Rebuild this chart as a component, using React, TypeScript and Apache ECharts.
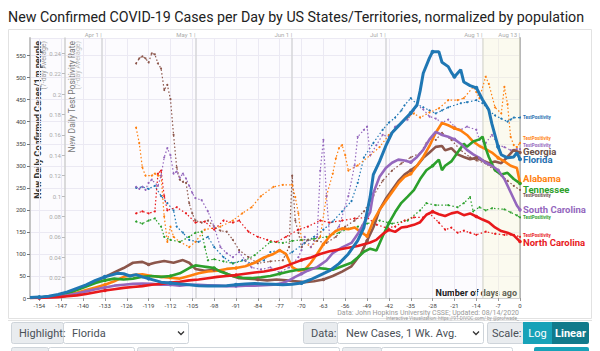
import React, { useEffect, useRef } from 'react';
import * as echarts from 'echarts';

const TITLE = 'New Confirmed COVID-19 Cases per Day by US States/Territories, normalized by population';
const DAY_MIN = -157;
const DAY_MAX = 0;
const DAY_TICKS = [-154, -147, -140, -133, -126, -119, -112, -105, -98, -91, -84, -77, -70, -63, -56, -49, -42, -35, -28, -21, -14, -7, 0];
const MONTH_DAYS = [-134, -104, -73, -43, -12, 0];
const MONTH_LABELS = ['Apr 1', 'May 1', 'Jun 1', 'Jul 1', 'Aug 1', 'Aug 13'];
const CASE_MAX = 590;
const CASE_STEP = 50;
const POS_MAX = 0.255;
const POS_STEP = 0.02;

const STATES = ['Florida', 'Georgia', 'Alabama', 'Tennessee', 'South Carolina', 'North Carolina'];
const COLORS = ['#1f77b4', '#8c564b', '#ff7f0e', '#2ca02c', '#9467bd', '#e8191c'];
const LABEL_COLORS = ['#1f6fb0', '#6b4f49', '#ff7f0e', '#2ca02c', '#9467bd', '#e8191c'];

const FL_CASES = [[-157,1],[-154,2],[-151,4],[-148,8],[-145,14],[-142,22],[-139,30],[-136,40],[-133,48],[-131,52],[-129,56],[-127,55],[-125,50],[-123,53],[-121,48],[-119,44],[-117,40],[-115,36],[-112,34],[-109,32],[-106,30],[-103,28],[-100,27],[-97,27],[-94,28],[-91,30],[-88,32],[-85,33],[-82,32],[-79,31],[-76,30],[-73,31],[-70,34],[-67,42],[-64,52],[-61,62],[-58,78],[-55,100],[-52,130],[-50,160],[-48,230],[-47,280],[-45,310],[-43,345],[-41,375],[-39,390],[-37,405],[-35,420],[-33,438],[-32,470],[-31,510],[-29,545],[-28,559],[-26,559],[-25,535],[-23,525],[-22,512],[-21,502],[-19,518],[-18,490],[-16,482],[-14,477],[-12,450],[-10,427],[-9,395],[-7,343],[-6,325],[-4,318],[-2,320],[-1,330],[0,315]];
const GA_CASES = [[-157,0],[-154,1],[-151,3],[-148,6],[-145,12],[-142,20],[-139,28],[-136,38],[-133,48],[-130,58],[-127,68],[-124,80],[-121,82],[-119,76],[-117,80],[-114,84],[-111,80],[-108,86],[-106,80],[-104,66],[-101,62],[-98,64],[-96,62],[-93,52],[-90,45],[-87,44],[-84,42],[-81,40],[-78,42],[-75,40],[-72,38],[-69,36],[-66,38],[-63,42],[-60,50],[-57,60],[-54,72],[-51,100],[-49,130],[-47,160],[-45,200],[-43,225],[-41,245],[-39,265],[-37,280],[-35,290],[-33,300],[-31,318],[-29,330],[-27,343],[-25,345],[-24,335],[-22,340],[-20,326],[-18,320],[-16,315],[-14,318],[-12,312],[-10,306],[-8,310],[-6,306],[-4,320],[-2,336],[0,330]];
const AL_CASES = [[-157,0],[-154,1],[-151,2],[-148,4],[-145,8],[-142,12],[-139,18],[-136,24],[-133,30],[-130,38],[-127,48],[-124,52],[-121,54],[-118,50],[-115,48],[-112,46],[-109,44],[-106,50],[-103,56],[-100,60],[-97,62],[-94,66],[-91,68],[-88,72],[-85,80],[-82,92],[-79,100],[-77,108],[-75,100],[-73,70],[-71,62],[-69,64],[-67,80],[-65,100],[-63,122],[-61,140],[-59,152],[-57,158],[-55,156],[-53,160],[-51,150],[-49,140],[-47,175],[-45,200],[-43,220],[-41,240],[-39,260],[-37,275],[-35,282],[-33,300],[-31,320],[-29,345],[-27,375],[-25,397],[-23,392],[-21,385],[-19,380],[-17,370],[-15,355],[-13,345],[-11,338],[-9,330],[-7,318],[-5,310],[-3,300],[-1,295],[0,261]];
const TN_CASES = [[-157,0],[-154,1],[-151,3],[-148,6],[-145,11],[-142,18],[-139,26],[-136,34],[-133,40],[-130,44],[-127,42],[-124,44],[-121,48],[-118,50],[-115,48],[-112,50],[-109,56],[-106,68],[-104,74],[-102,72],[-100,70],[-98,68],[-96,60],[-94,55],[-92,50],[-89,46],[-86,45],[-83,47],[-80,50],[-77,55],[-74,60],[-71,64],[-68,66],[-65,68],[-62,66],[-60,64],[-57,72],[-54,80],[-52,92],[-50,105],[-48,112],[-46,108],[-44,140],[-42,170],[-40,195],[-38,216],[-36,230],[-34,245],[-32,270],[-30,290],[-28,300],[-26,314],[-25,290],[-24,300],[-22,310],[-20,330],[-18,350],[-17,343],[-15,355],[-13,360],[-12,366],[-11,340],[-10,320],[-8,290],[-6,280],[-4,284],[-2,270],[0,260]];
const SC_CASES = [[-157,0],[-154,0],[-151,1],[-148,3],[-145,6],[-142,10],[-139,15],[-136,20],[-133,24],[-130,28],[-127,30],[-124,32],[-121,33],[-118,32],[-115,30],[-112,30],[-109,28],[-106,30],[-103,30],[-100,29],[-97,28],[-94,27],[-91,27],[-88,28],[-85,28],[-82,29],[-79,30],[-76,34],[-74,40],[-72,48],[-70,55],[-68,62],[-65,70],[-62,85],[-60,102],[-57,115],[-54,125],[-52,145],[-50,170],[-48,195],[-47,238],[-45,275],[-43,295],[-41,307],[-39,314],[-37,312],[-35,308],[-33,320],[-31,336],[-29,360],[-27,377],[-25,370],[-23,366],[-21,360],[-19,350],[-17,336],[-15,326],[-13,318],[-11,307],[-9,300],[-7,290],[-5,270],[-3,240],[-1,210],[0,200]];
const NC_CASES = [[-157,0],[-154,0],[-151,1],[-148,2],[-145,4],[-142,6],[-139,9],[-136,13],[-133,17],[-130,20],[-127,23],[-124,25],[-121,27],[-118,30],[-115,32],[-112,35],[-109,37],[-106,40],[-103,42],[-100,45],[-97,48],[-94,50],[-91,52],[-88,55],[-85,58],[-82,60],[-79,64],[-76,70],[-73,78],[-70,86],[-67,92],[-64,100],[-61,106],[-58,110],[-55,114],[-52,118],[-50,122],[-48,126],[-46,132],[-44,145],[-42,155],[-40,150],[-38,160],[-36,162],[-34,166],[-32,172],[-30,189],[-28,196],[-26,190],[-24,186],[-22,192],[-20,195],[-18,188],[-16,192],[-14,185],[-12,178],[-10,172],[-8,160],[-6,152],[-4,148],[-2,142],[0,128]];

const FL_POS = [[-123,0.108],[-121,0.109],[-119,0.107],[-117,0.11],[-115,0.1],[-113,0.093],[-111,0.086],[-110,0.07],[-108,0.064],[-106,0.057],[-103,0.055],[-100,0.06],[-98,0.05],[-95,0.04],[-92,0.034],[-89,0.037],[-86,0.034],[-82,0.037],[-80,0.045],[-77,0.047],[-75,0.042],[-73,0.045],[-69,0.054],[-66,0.06],[-63,0.067],[-60,0.075],[-57,0.085],[-54,0.095],[-52,0.113],[-50,0.138],[-47,0.152],[-44,0.165],[-42,0.172],[-40,0.177],[-38,0.184],[-37,0.189],[-35,0.196],[-33,0.19],[-31,0.187],[-29,0.184],[-27,0.181],[-25,0.184],[-23,0.187],[-19,0.191],[-17,0.192],[-14,0.194],[-12,0.191],[-10,0.184],[-8,0.179],[-6,0.176],[-4,0.173],[-3,0.175],[-2,0.177],[0,0.177]];
const GA_POS = [[-123,0.23],[-122,0.235],[-121,0.237],[-120,0.235],[-119,0.231],[-118,0.24],[-117,0.239],[-116,0.23],[-115,0.225],[-114,0.204],[-113,0.209],[-112,0.195],[-111,0.16],[-110,0.128],[-109,0.116],[-108,0.114],[-107,0.113],[-106,0.093],[-105,0.083],[-104,0.076],[-102,0.074],[-100,0.076],[-98,0.07],[-96,0.066],[-94,0.065],[-92,0.057],[-90,0.047],[-87,0.04],[-84,0.034],[-80,0.036],[-76,0.037],[-74,0.05],[-73,0.12],[-72,0.076],[-71,0.064],[-70,0.05],[-68,0.057],[-65,0.056],[-62,0.054],[-59,0.06],[-56,0.07],[-53,0.076],[-50,0.085],[-47,0.1],[-44,0.115],[-41,0.125],[-38,0.132],[-35,0.138],[-32,0.142],[-30,0.152],[-28,0.158],[-27,0.155],[-25,0.162],[-22,0.155],[-19,0.145],[-16,0.138],[-14,0.135],[-11,0.132],[-8,0.125],[-6,0.12],[-4,0.115],[-2,0.11],[0,0.106]];
const AL_POS = [[-123,0.167],[-122,0.152],[-121,0.128],[-120,0.12],[-118,0.12],[-117,0.122],[-116,0.12],[-115,0.12],[-114,0.08],[-113,0.055],[-112,0.07],[-111,0.06],[-109,0.055],[-106,0.05],[-104,0.055],[-101,0.067],[-96,0.07],[-92,0.076],[-89,0.083],[-86,0.089],[-83,0.1],[-79,0.109],[-76,0.111],[-73,0.111],[-72,0.099],[-71,0.083],[-70,0.057],[-67,0.05],[-64,0.06],[-62,0.1],[-60,0.122],[-59,0.137],[-58,0.147],[-57,0.15],[-56,0.14],[-55,0.125],[-52,0.13],[-48,0.14],[-45,0.148],[-42,0.16],[-38,0.172],[-36,0.177],[-34,0.181],[-32,0.177],[-29,0.182],[-26,0.186],[-23,0.194],[-20,0.194],[-18,0.196],[-15,0.207],[-14,0.202],[-13,0.196],[-11,0.217],[-10,0.21],[-8,0.187],[-6,0.181],[-5,0.207],[-4,0.19],[-3,0.158],[-2,0.15],[-1,0.148],[0,0.152]];
const TN_POS = [[-123,0.075],[-121,0.073],[-119,0.076],[-117,0.078],[-115,0.07],[-114,0.06],[-112,0.057],[-109,0.055],[-106,0.06],[-104,0.064],[-102,0.065],[-101,0.05],[-100,0.037],[-98,0.038],[-95,0.036],[-92,0.034],[-88,0.037],[-85,0.042],[-80,0.055],[-76,0.054],[-73,0.056],[-70,0.057],[-66,0.058],[-62,0.06],[-58,0.064],[-55,0.068],[-52,0.07],[-49,0.073],[-45,0.076],[-41,0.073],[-36,0.076],[-32,0.086],[-30,0.093],[-27,0.091],[-23,0.091],[-20,0.089],[-18,0.093],[-16,0.099],[-15,0.085],[-13,0.089],[-11,0.086],[-9,0.088],[-5,0.087],[-3,0.084],[-1,0.081],[0,0.079]];
const SC_POS = [[-123,0.109],[-122,0.107],[-121,0.109],[-120,0.106],[-119,0.113],[-118,0.116],[-116,0.11],[-115,0.12],[-114,0.138],[-113,0.147],[-112,0.14],[-111,0.122],[-110,0.124],[-109,0.118],[-108,0.122],[-107,0.117],[-106,0.11],[-105,0.103],[-104,0.098],[-102,0.096],[-100,0.085],[-98,0.07],[-96,0.05],[-94,0.044],[-92,0.04],[-90,0.045],[-88,0.037],[-86,0.03],[-83,0.028],[-80,0.03],[-77,0.025],[-74,0.03],[-71,0.04],[-70,0.047],[-69,0.06],[-67,0.05],[-65,0.06],[-64,0.125],[-63,0.155],[-62,0.1],[-61,0.06],[-58,0.07],[-55,0.1],[-53,0.13],[-52,0.158],[-50,0.165],[-49,0.168],[-48,0.14],[-46,0.15],[-44,0.16],[-42,0.158],[-40,0.168],[-38,0.172],[-36,0.175],[-34,0.184],[-33,0.189],[-31,0.185],[-29,0.178],[-27,0.176],[-25,0.172],[-23,0.175],[-21,0.168],[-19,0.165],[-17,0.168],[-14,0.165],[-13,0.155],[-11,0.152],[-9,0.16],[-7,0.15],[-5,0.148],[-3,0.145],[-1,0.146],[0,0.146]];
const NC_POS = [[-123,0.083],[-121,0.085],[-119,0.083],[-117,0.085],[-116,0.122],[-115,0.125],[-114,0.1],[-113,0.086],[-110,0.089],[-107,0.083],[-104,0.074],[-101,0.075],[-98,0.067],[-95,0.076],[-92,0.074],[-90,0.076],[-87,0.065],[-84,0.06],[-81,0.057],[-78,0.055],[-75,0.06],[-71,0.067],[-68,0.07],[-64,0.076],[-61,0.074],[-57,0.076],[-53,0.078],[-49,0.079],[-46,0.072],[-43,0.069],[-40,0.07],[-37,0.076],[-34,0.079],[-31,0.079],[-29,0.083],[-26,0.074],[-24,0.067],[-22,0.069],[-20,0.064],[-18,0.066],[-16,0.064],[-14,0.062],[-11,0.065],[-8,0.063],[-5,0.062],[-2,0.062],[0,0.06]];

const CASES = [FL_CASES, GA_CASES, AL_CASES, TN_CASES, SC_CASES, NC_CASES];
const POS = [FL_POS, GA_POS, AL_POS, TN_POS, SC_POS, NC_POS];
const NAME_OFFSETS = [[0, 0.5], [0, -1.5], [0, -4], [0, 6], [0, 0], [0, 1]];
const POS_OFFSETS = [[0, 0], [0, 6], [0, -5], [0, 0], [0, -4], [0, -1]];

const FONT = 'Roboto, "Open Sans", sans-serif';

function buildOption() {
  const categories: string[] = [];
  for (let d = DAY_MIN; d <= DAY_MAX; d++) categories.push(String(d));
  const isTick = (_i: number, v: string) => DAY_TICKS.indexOf(Number(v)) >= 0;
  const isMonth = (_i: number, v: string) => MONTH_DAYS.indexOf(Number(v)) >= 0;
  const toPairs = (arr: number[][]) => arr.map(([d, v]) => [String(d), v]);

  const series: any[] = [];
  STATES.forEach((name, i) => {
    series.push({
      name: name + ' TestPositivity',
      type: 'line',
      xAxisIndex: 0,
      yAxisIndex: 1,
      data: toPairs(POS[i]),
      symbol: 'circle',
      symbolSize: 2,
      showSymbol: true,
      z: 2,
      lineStyle: { color: COLORS[i], width: 1.2, type: [1.5, 2.2] },
      itemStyle: { color: COLORS[i] },
      endLabel: {
        show: true,
        formatter: 'TestPositivity',
        color: LABEL_COLORS[i],
        fontSize: 4.5,
        lineHeight: 5,
        fontWeight: 'bold',
        fontFamily: FONT,
        distance: 3,
        offset: POS_OFFSETS[i],
      },
      emphasis: { disabled: true },
    });
  });
  STATES.forEach((name, i) => {
    const s: any = {
      name,
      type: 'line',
      xAxisIndex: 0,
      yAxisIndex: 0,
      data: toPairs(CASES[i]),
      symbol: 'circle',
      symbolSize: i === 0 ? 4 : 3.5,
      showSymbol: true,
      z: i === 0 ? 5 : 3,
      lineStyle: { color: COLORS[i], width: i === 0 ? 3 : 2.6 },
      itemStyle: { color: COLORS[i] },
      endLabel: {
        show: true,
        formatter: name,
        color: LABEL_COLORS[i],
        fontSize: 9.5,
        lineHeight: 9.5,
        fontWeight: 'bold',
        fontFamily: FONT,
        distance: 3,
        offset: NAME_OFFSETS[i],
      },
      emphasis: { disabled: true },
    };
    if (i === 0) {
      s.markArea = {
        silent: true,
        itemStyle: { color: 'rgba(250,248,205,0.3)' },
        data: [[{ xAxis: String(MONTH_DAYS[4]) }, { xAxis: String(MONTH_DAYS[5]) }]],
      };
    }
    series.push(s);
  });

  const gridColor = '#ebe9f3';
  const tx = (text: string, x: number, y: number, size: number, color: string, extra: any = {}, rotation = 0, scaleX = 1) => ({
    type: 'text',
    x,
    y,
    rotation,
    scaleX,
    silent: true,
    style: { text, fontSize: size, fill: color, fontFamily: FONT, ...extra },
  });
  const box = (x: number, y: number, w: number, h: number, fill: string, stroke: string) => ({
    type: 'rect',
    silent: true,
    shape: { x: x + 0.5, y: y + 0.5, width: w, height: h, r: 2 },
    style: { fill, stroke, lineWidth: 1 },
  });
  const chevron = (x: number, y: number) => ({
    type: 'polyline',
    silent: true,
    shape: { points: [[x - 3, y - 1.5], [x, y + 1.5], [x + 3, y - 1.5]] },
    style: { stroke: '#333', lineWidth: 1.3, fill: 'none' },
  });
  const up = Math.PI / 2;

  const graphic: any[] = [
    { type: 'rect', silent: true, z: -10, shape: { x: 8.5, y: 29.5, width: 583, height: 289 }, style: { fill: 'none', stroke: '#e2e2e2' } },
    { type: 'line', silent: true, shape: { x1: 8, y1: 320.5, x2: 592, y2: 320.5 }, style: { stroke: '#e2e2e2' } },
    tx(TITLE, 8, 17, 15.5, '#222', { verticalAlign: 'middle' }, 0, 0.92),
    tx('New Daily Confirmed Cases/1m people', 33, 41, 9, '#333', { align: 'right', verticalAlign: 'top', fontWeight: 'bold' }, up),
    tx('(7-day Average)', 40, 41, 7, '#999', { align: 'right', verticalAlign: 'top' }, up),
    tx('New Daily Test Positivity Rate', 67, 41, 8.5, '#777', { align: 'right', verticalAlign: 'top' }, up),
    tx('(7-day Average)', 74, 41, 7, '#bbb', { align: 'right', verticalAlign: 'top' }, up),
    tx('Number of days ago', 517, 293, 9, '#222', { align: 'right', verticalAlign: 'middle', fontWeight: 'bold' }),
    tx('Data: John Hopkins University CSSE; Updated: 08/14/2020', 519, 312.5, 7, '#999', { align: 'right', verticalAlign: 'middle' }),
    tx('Interactive Visualization: https://91-DIVOC.com/ by @profwade_', 519, 318, 4.7, '#999', { align: 'right', verticalAlign: 'middle' }),
    box(11, 322, 52, 21, '#e9ecef', '#ced4da'),
    box(63, 322, 125, 21, '#ffffff', '#ced4da'),
    tx('Highlight:', 19, 333, 11, '#495057', { verticalAlign: 'middle' }),
    tx('Florida', 72, 333, 11, '#495057', { verticalAlign: 'middle' }),
    chevron(181, 333),
    box(303, 322, 34, 21, '#e9ecef', '#ced4da'),
    box(337, 322, 146, 21, '#ffffff', '#ced4da'),
    tx('Data:', 311, 333, 11, '#495057', { verticalAlign: 'middle' }),
    tx('New Cases, 1 Wk. Avg.', 346, 333, 11, '#495057', { verticalAlign: 'middle' }),
    chevron(476, 333),
    box(487, 322, 36, 21, '#e9ecef', '#ced4da'),
    tx('Scale:', 492, 333, 11, '#495057', { verticalAlign: 'middle' }),
    { type: 'rect', silent: true, shape: { x: 523, y: 322, width: 29, height: 22 }, style: { fill: '#17a2b8' } },
    { type: 'rect', silent: true, shape: { x: 552, y: 322, width: 37, height: 22, r: [0, 2, 2, 0] }, style: { fill: '#117a8b' } },
    tx('Log', 537.5, 333, 11, '#ffffff', { align: 'center', verticalAlign: 'middle' }),
    tx('Linear', 570.5, 333, 11, '#ffffff', { align: 'center', verticalAlign: 'middle', fontWeight: 'bold' }),
    box(11, 347, 37, 20, '#e9ecef', '#ced4da'),
    box(48, 347, 86, 20, '#ffffff', '#ced4da'),
    box(137, 347, 36, 20, '#e9ecef', '#ced4da'),
    box(173, 347, 166, 20, '#ffffff', '#ced4da'),
    box(342, 347, 39, 20, '#e9ecef', '#ced4da'),
    box(381, 347, 131, 20, '#ffffff', '#ced4da'),
    { type: 'rect', silent: true, shape: { x: 534, y: 347, width: 55, height: 20, r: 2 }, style: { fill: '#17a2b8' } },
  ];

  return {
    animation: false,
    backgroundColor: '#ffffff',
    textStyle: { fontFamily: FONT },
    grid: { left: 30, right: 80, top: 38, bottom: 53, show: true, backgroundColor: '#fcfbfe', borderWidth: 0 },
    xAxis: [
      {
        type: 'category',
        data: categories,
        boundaryGap: false,
        position: 'bottom',
        axisLine: { show: true, lineStyle: { color: '#d0d0d0' } },
        axisTick: { show: true, interval: isTick, length: 3, lineStyle: { color: '#999' } },
        axisLabel: { interval: isTick, fontSize: 6, color: '#444', margin: 4 },
        splitLine: { show: true, interval: isTick, lineStyle: { color: gridColor } },
      },
      {
        type: 'category',
        data: categories,
        boundaryGap: false,
        position: 'top',
        axisLine: { show: false },
        axisTick: { show: false },
        axisLabel: {
          interval: isMonth,
          fontSize: 6,
          color: '#aaa',
          margin: 1,
          align: 'right',
          formatter: (v: string) => MONTH_LABELS[MONTH_DAYS.indexOf(Number(v))] + ' |',
        },
        splitLine: { show: true, interval: isMonth, lineStyle: { color: '#d6d6d9', width: 1.5 } },
      },
    ],
    yAxis: [
      {
        type: 'value',
        min: 0,
        max: CASE_MAX,
        interval: CASE_STEP,
        position: 'left',
        axisLine: { show: true, lineStyle: { color: '#c4c4c4', width: 2 } },
        axisTick: { show: true, length: 3, lineStyle: { color: '#777' } },
        axisLabel: { fontSize: 6, color: '#444', margin: 4, showMaxLabel: false },
        splitLine: { show: true, lineStyle: { color: gridColor } },
      },
      {
        type: 'value',
        min: 0,
        max: POS_MAX,
        interval: POS_STEP,
        position: 'left',
        offset: -35,
        axisLine: { show: true, lineStyle: { color: '#cfcfcf', width: 1.5 } },
        axisTick: { show: true, length: 3, lineStyle: { color: '#bbb' } },
        axisLabel: { fontSize: 6, color: '#aaa', margin: 4, showMaxLabel: false, showMinLabel: false },
        splitLine: { show: false },
      },
      {
        type: 'value',
        min: 0,
        max: 1,
        position: 'right',
        axisLine: { show: true, lineStyle: { color: '#b8b8b8', width: 2 } },
        axisTick: { show: false },
        axisLabel: { show: false },
        splitLine: { show: false },
      },
    ],
    series,
    graphic,
  };
}

export default function App() {
  const ref = useRef<HTMLDivElement>(null);
  useEffect(() => {
    if (!ref.current) return;
    const chart = echarts.init(ref.current, undefined, { renderer: 'svg' });
    chart.setOption(buildOption() as any);
    return () => chart.dispose();
  }, []);
  return <div ref={ref} style={{ position: 'fixed', left: 0, top: 0, width: 600, height: 351 }} />;
}
